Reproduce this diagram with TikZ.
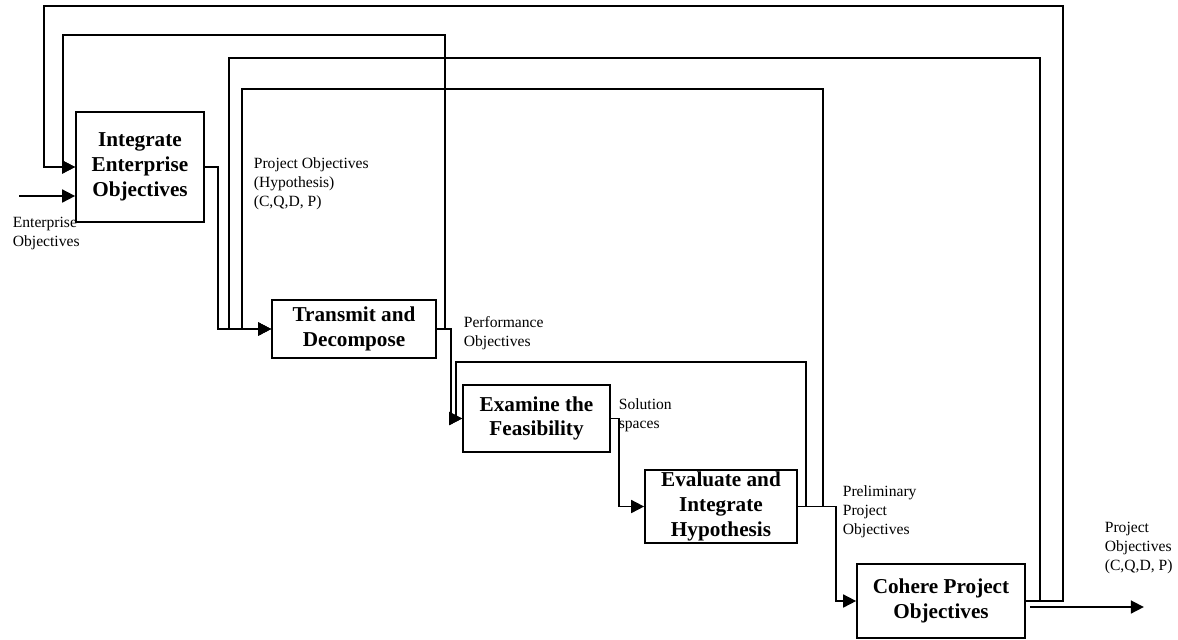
\documentclass[tikz,border=0pt]{standalone}
\usepackage{fontspec}
\setmainfont{Liberation Serif}
\usetikzlibrary{arrows.meta}

\begin{document}
\begin{tikzpicture}[x=0.5pt,y=-0.5pt,line width=0.85pt,
  act/.style={draw,fill=white,font=\fontsize{10.6}{12.4}\selectfont\bfseries,align=center,inner sep=0pt},
  lbl/.style={font=\fontsize{7.8}{9.5}\selectfont,align=left,anchor=north west,inner sep=0pt},
  >={Triangle[length=6.5pt,width=6.5pt]}]
\useasboundingbox (0,0) rectangle (1178,639);
% activities
\node[act,minimum width=64pt,minimum height=55pt] (iep) at (140,167) {Integrate\\Enterprise\\Objectives};
\node[act,minimum width=82pt,minimum height=29pt] (tad) at (354,329) {Transmit and\\Decompose};
\node[act,minimum width=73.5pt,minimum height=33.5pt] (etf) at (536.5,418.5) {Examine the\\Feasibility};
\node[act,minimum width=76pt,minimum height=36.5pt] (eih) at (721,506.5) {Evaluate and\\Integrate\\Hypothesis};
\node[act,minimum width=84pt,minimum height=37pt] (cpo) at (941,601) {Cohere Project\\Objectives};
% input and output
\coordinate (in) at (19,196);
\draw[->] (in) -- (in -| iep.west);
\draw[->] ([xshift=2pt,yshift=-3pt]cpo.east) -- ++(114,0);
% forward flow
\draw[->] (iep.east) -- ++(13,0) |- (tad.west);
\draw[->] (tad.east) -- ++(14,0) |- (etf.west);
\draw[->] (etf.east) -- ++(8,0) |- (eih.west);
\draw[->] (eih.east) -- ++(38,0) |- (cpo.west);
% feedback loops
\draw[->] (cpo.east) -- ++(37,0) |- (44,6) |- (iep.west);
\draw[->] (cpo.east) -- ++(14,0) |- (229,58) |- (tad.west);
\draw[->] (eih.east) -- ++(25,0) |- (242,89) |- (tad.west);
\draw[->] (eih.east) -- ++(8,0) |- (456,362) |- (etf.west);
\draw[->] (tad.east) -- ++(8,0) |- (63,35) |- (iep.west);
% labels
\node[lbl] (lin) at (12,216) {Enterprise\\Objectives};
\node[lbl] (lhyp) at (253,157) {Project Objectives\\(Hypothesis)\\(C,Q,D, P)};
\node[lbl] (lperf) at (463,316) {Performance\\Objectives};
\node[lbl] (lsol) at (618,398) {Solution\\spaces};
\node[lbl] (lpre) at (842,485) {Preliminary\\Project\\Objectives};
\node[lbl] (lout) at (1104,521) {Project\\Objectives\\(C,Q,D, P)};
\end{tikzpicture}
\end{document}
